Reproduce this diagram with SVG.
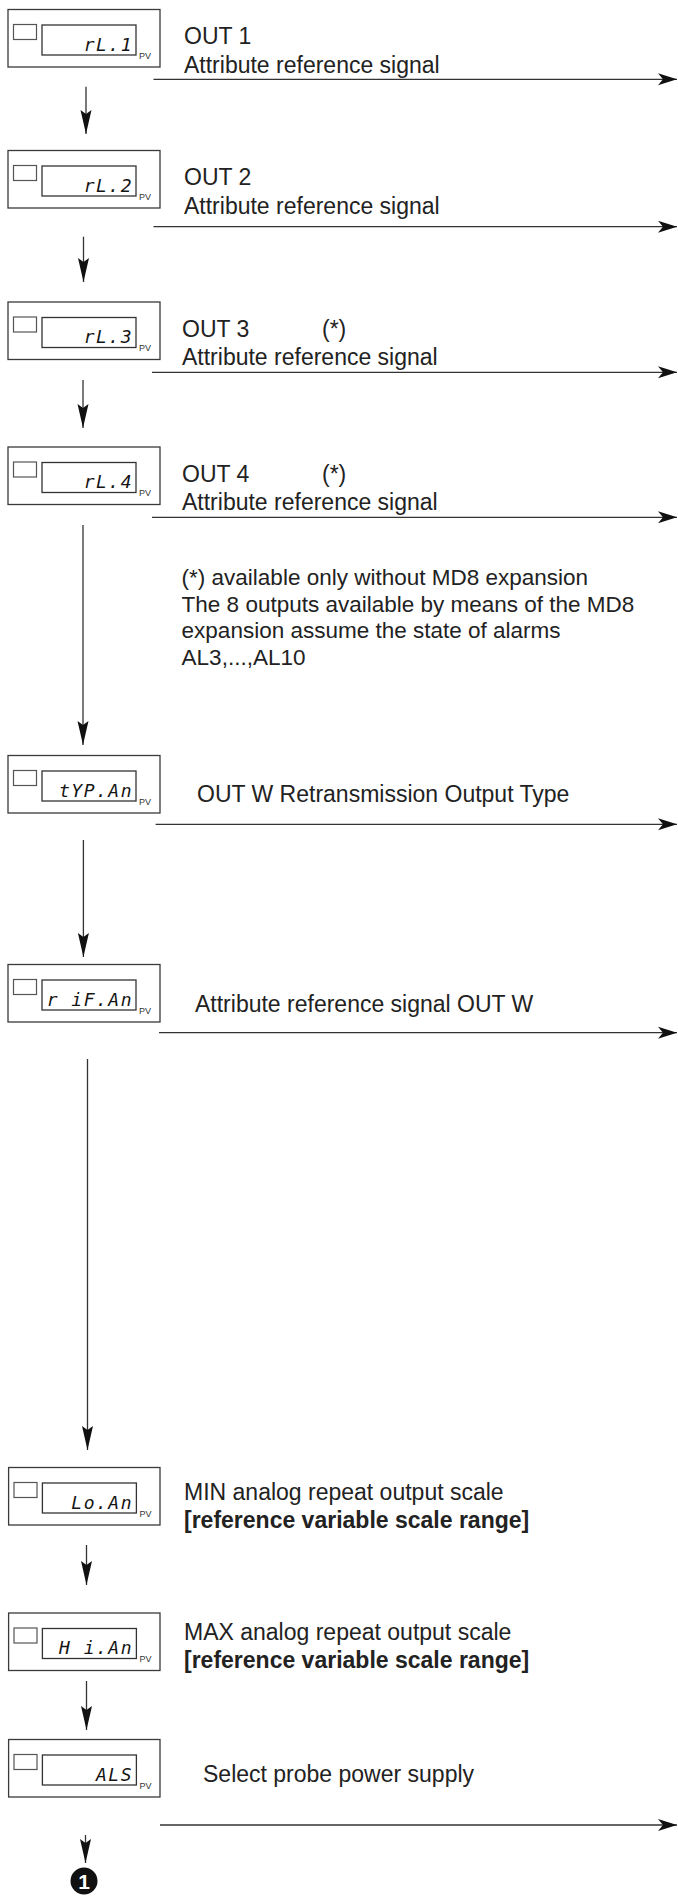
<svg xmlns="http://www.w3.org/2000/svg" width="678" height="1896" viewBox="0 0 678 1896">
<style>
.bg{fill:#fff}
.box{fill:#fff;stroke:#3a3a3a;stroke-width:1.3}
.sq{fill:#fff;stroke:#555;stroke-width:1.2}
.disp{fill:#fff;stroke:#333;stroke-width:1.3}
.seg{font-family:"DejaVu Sans Mono","Liberation Mono",monospace;font-style:oblique;font-size:18px;fill:#151515;letter-spacing:1.5px;text-anchor:end}
.pv{font-family:"Liberation Sans",Arial,sans-serif;font-size:9px;fill:#333}
.lbl{font-family:"Liberation Sans",Arial,sans-serif;font-size:23px;fill:#222}
.note{font-size:22.5px}
.b{font-weight:bold}
.conn line{stroke:#333;stroke-width:1.3}
.h{marker-end:url(#ah)}
.v{marker-end:url(#av)}
</style>
<defs>
<marker id="ah" markerUnits="userSpaceOnUse" markerWidth="20" markerHeight="14" viewBox="0 -7 20 14" refX="19" refY="0" orient="auto">
<path d="M0,-6 L19,0 L0,6 L5,0 Z" fill="#111"/>
</marker>
<marker id="av" markerUnits="userSpaceOnUse" markerWidth="26" markerHeight="12" viewBox="0 -6 26 12" refX="24" refY="0" orient="auto">
<path d="M0,-5.5 L24,0 L0,5.5 L4,0 Z" fill="#111"/>
</marker>
</defs>
<rect class="bg" x="0" y="0" width="678" height="1896"/>

<g id="connectors" class="conn">
<line class="h" x1="153.5" y1="79.3" x2="677" y2="79.3"/>
<line class="h" x1="153.5" y1="226.7" x2="677" y2="226.7"/>
<line class="h" x1="152" y1="372.3" x2="677" y2="372.3"/>
<line class="h" x1="152" y1="517.3" x2="677" y2="517.3"/>
<line class="h" x1="155.6" y1="824.3" x2="677" y2="824.3"/>
<line class="h" x1="159" y1="1032.7" x2="677" y2="1032.7"/>
<line class="h" x1="160" y1="1825" x2="677" y2="1825"/>
<line class="v" x1="86" y1="86.7" x2="86" y2="134"/>
<line class="v" x1="83.5" y1="236.7" x2="83.5" y2="282"/>
<line class="v" x1="83" y1="380" x2="83" y2="428"/>
<line class="v" x1="83" y1="525" x2="83" y2="745"/>
<line class="v" x1="83.4" y1="840" x2="83.4" y2="957"/>
<line class="v" x1="87.5" y1="1059" x2="87.5" y2="1450"/>
<line class="v" x1="86.5" y1="1545" x2="86.5" y2="1585"/>
<line class="v" x1="86.5" y1="1681" x2="86.5" y2="1730"/>
<line class="v" x1="85.5" y1="1835" x2="85.5" y2="1863"/>
</g>

<g id="n-rl1" transform="translate(0,9.5)">
<rect class="box" x="8" y="0" width="152" height="57.5"/>
<rect class="sq" x="13.5" y="15" width="23" height="15"/>
<rect class="disp" x="42" y="15.5" width="94" height="30"/>
<text class="seg" x="133" y="41">rL.1</text>
<text class="pv" x="139" y="49">PV</text>
<text class="lbl" x="184" y="34">OUT 1</text>
<text class="lbl" x="184" y="63.3">Attribute reference signal</text>
</g>

<g id="n-rl2" transform="translate(0,150.5)">
<rect class="box" x="8" y="0" width="152" height="57.5"/>
<rect class="sq" x="13.5" y="15" width="23" height="15"/>
<rect class="disp" x="42" y="15.5" width="94" height="30"/>
<text class="seg" x="133" y="41">rL.2</text>
<text class="pv" x="139" y="49">PV</text>
<text class="lbl" x="184" y="34.5">OUT 2</text>
<text class="lbl" x="184" y="63">Attribute reference signal</text>
</g>

<g id="n-rl3" transform="translate(0,302)">
<rect class="box" x="8" y="0" width="152" height="57.5"/>
<rect class="sq" x="13.5" y="15" width="23" height="15"/>
<rect class="disp" x="42" y="15.5" width="94" height="30"/>
<text class="seg" x="133" y="41">rL.3</text>
<text class="pv" x="139" y="49">PV</text>
<text class="lbl" x="182" y="35">OUT 3</text>
<text class="lbl" x="322" y="35">(*)</text>
<text class="lbl" x="182" y="63">Attribute reference signal</text>
</g>

<g id="n-rl4" transform="translate(0,447)">
<rect class="box" x="8" y="0" width="152" height="57.5"/>
<rect class="sq" x="13.5" y="15" width="23" height="15"/>
<rect class="disp" x="42" y="15.5" width="94" height="30"/>
<text class="seg" x="133" y="41">rL.4</text>
<text class="pv" x="139" y="49">PV</text>
<text class="lbl" x="182" y="35">OUT 4</text>
<text class="lbl" x="322" y="35">(*)</text>
<text class="lbl" x="182" y="63">Attribute reference signal</text>
</g>

<g id="note">
<text class="lbl note" x="181.6" y="585">(*) available only without MD8 expansion</text>
<text class="lbl note" x="181.6" y="611.7">The 8 outputs available by means of the MD8</text>
<text class="lbl note" x="181.6" y="638.3">expansion assume the state of alarms</text>
<text class="lbl note" x="181.6" y="665">AL3,...,AL10</text>
</g>

<g id="n-typan" transform="translate(0,755.5)">
<rect class="box" x="8" y="0" width="152" height="57.5"/>
<rect class="sq" x="13.5" y="15" width="23" height="15"/>
<rect class="disp" x="42" y="15.5" width="94" height="30"/>
<text class="seg" x="133" y="41">tYP.An</text>
<text class="pv" x="139" y="49">PV</text>
<text class="lbl" x="197" y="46.5">OUT W Retransmission Output Type</text>
</g>

<g id="n-rifan" transform="translate(0,964.5)">
<rect class="box" x="8" y="0" width="152" height="57.5"/>
<rect class="sq" x="13.5" y="15" width="23" height="15"/>
<rect class="disp" x="42" y="15.5" width="94" height="30"/>
<text class="seg" x="133" y="41">r iF.An</text>
<text class="pv" x="139" y="49">PV</text>
<text class="lbl" x="195" y="47.5">Attribute reference signal OUT W</text>
</g>

<g id="n-loan" transform="translate(0,1467.5)">
<rect class="box" x="8.6" y="0" width="151.4" height="57.5"/>
<rect class="sq" x="14" y="15" width="23" height="15"/>
<rect class="disp" x="42.4" y="15.5" width="94" height="30"/>
<text class="seg" x="133" y="41">Lo.An</text>
<text class="pv" x="139.5" y="49">PV</text>
<text class="lbl" x="184" y="32.5">MIN analog repeat output scale</text>
<text class="lbl b" x="184" y="60.5">[reference variable scale range]</text>
</g>

<g id="n-hian" transform="translate(0,1613)">
<rect class="box" x="8.6" y="0" width="151.4" height="57.5"/>
<rect class="sq" x="14" y="15" width="23" height="15"/>
<rect class="disp" x="42.4" y="15.5" width="94" height="30"/>
<text class="seg" x="133" y="41">H i.An</text>
<text class="pv" x="139.5" y="49">PV</text>
<text class="lbl" x="184" y="27">MAX analog repeat output scale</text>
<text class="lbl b" x="184" y="55">[reference variable scale range]</text>
</g>

<g id="n-als" transform="translate(0,1739.5)">
<rect class="box" x="8.6" y="0" width="151.4" height="57.5"/>
<rect class="sq" x="14" y="15" width="23" height="15"/>
<rect class="disp" x="42.4" y="15.5" width="94" height="30"/>
<text class="seg" x="133" y="41">ALS</text>
<text class="pv" x="139.5" y="49">PV</text>
<text class="lbl" x="203" y="42.5">Select probe power supply</text>
</g>

<g id="n-end">
<circle cx="84" cy="1881" r="13.5" fill="#111"/>
<text x="84" y="1889" text-anchor="middle" font-family="Liberation Sans, Arial, sans-serif" font-weight="bold" font-size="21" fill="#fff">1</text>
</g>
</svg>
